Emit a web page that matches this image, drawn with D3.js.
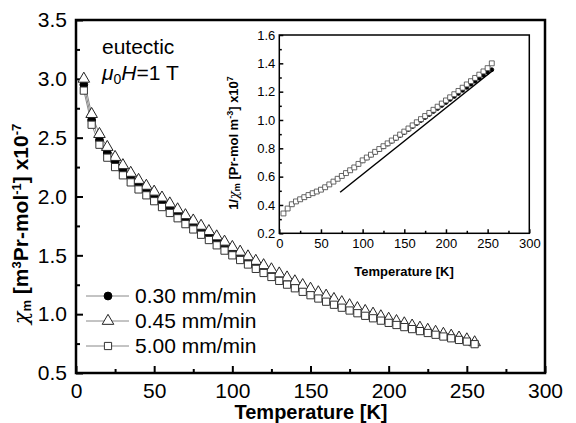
<!DOCTYPE html>
<html>
<head>
<meta charset="utf-8">
<script src="https://cdn.jsdelivr.net/npm/d3@7"></script>
<style>
body { margin: 0; background: #fff; }
text { font-family: Arial, "Liberation Sans", sans-serif; }
</style>
</head>
<body>
<div id="chart"></div>
<script>
// temperatures [K]
var temps = [5,10,15,20,25,30,35,40,45,50,55,60,65,70,75,80,85,90,95,100,
             105,110,115,120,125,130,135,140,145,150,155,160,165,170,175,180,185,190,195,200,
             205,210,215,220,225,230,235,240,245,250,255];

// chi_m x1e-7, main plot
var chi030 = [2.95,2.65,2.48,2.37,2.29,2.22,2.16,2.10,2.05,2.00,1.95,1.90,1.85,1.80,1.755,1.71,1.665,1.62,1.575,1.53,
              1.49,1.452,1.414,1.378,1.343,1.31,1.277,1.245,1.214,1.184,1.155,1.127,1.100,1.074,1.049,1.025,1.002,0.98,0.96,0.94,
              0.921,0.903,0.885,0.868,0.851,0.835,0.819,0.804,0.789,0.775,0.752];
var chi045 = [3.00,2.70,2.53,2.42,2.335,2.265,2.20,2.14,2.09,2.04,1.99,1.94,1.89,1.84,1.795,1.75,1.705,1.66,1.615,1.57,
              1.53,1.49,1.452,1.415,1.38,1.345,1.311,1.278,1.246,1.215,1.185,1.156,1.128,1.101,1.075,1.05,1.026,1.003,0.981,0.96,
              0.94,0.921,0.902,0.884,0.866,0.849,0.832,0.816,0.80,0.785,0.76];
var chi500 = [2.90,2.61,2.44,2.33,2.25,2.18,2.12,2.06,2.01,1.96,1.91,1.86,1.815,1.765,1.72,1.675,1.63,1.585,1.54,1.50,
              1.46,1.422,1.385,1.35,1.316,1.283,1.251,1.22,1.19,1.161,1.133,1.106,1.08,1.055,1.031,1.008,0.986,0.965,0.945,0.926,
              0.908,0.89,0.873,0.856,0.84,0.825,0.81,0.795,0.781,0.767,0.745];

// 1/chi_m x1e7, inset
var inv030 = [0.34,0.375,0.405,0.425,0.44,0.455,0.47,0.483,0.495,0.508,0.525,0.545,0.565,0.585,0.605,0.625,0.645,0.665,0.688,0.712,
              0.732,0.752,0.772,0.792,0.811,0.83,0.85,0.87,0.891,0.912,0.933,0.954,0.975,0.996,1.017,1.038,1.06,1.081,1.102,1.123,
              1.145,1.166,1.187,1.209,1.23,1.252,1.273,1.294,1.315,1.336,1.355];
var inv500 = [0.34,0.375,0.405,0.425,0.44,0.455,0.47,0.483,0.495,0.508,0.525,0.545,0.565,0.585,0.605,0.625,0.645,0.665,0.69,0.715,
              0.735,0.755,0.775,0.795,0.815,0.835,0.855,0.875,0.897,0.918,0.94,0.962,0.984,1.006,1.028,1.05,1.072,1.094,1.116,1.138,
              1.16,1.182,1.205,1.228,1.251,1.274,1.297,1.32,1.343,1.366,1.40];
// Curie-Weiss fit line end points
var fitT = [73, 257];
var fitInv = [0.49, 1.353];

var legendLabels = ["0.30 mm/min", "0.45 mm/min", "5.00 mm/min"];
var xTicks = [0,50,100,150,200,250,300];
var yTicks = [0.5,1.0,1.5,2.0,2.5,3.0,3.5];
var insetYTicks = [0.2,0.4,0.6,0.8,1.0,1.2,1.4,1.6];

var W = 576, H = 423;
var svg = d3.select("#chart").append("svg")
            .attr("width", W).attr("height", H);

// main scales
var x = d3.scaleLinear().domain([0, 300]).range([76, 545]);
var y = d3.scaleLinear().domain([0.5, 3.5]).range([373, 20]);

var fmt1 = d3.format(".1f");

// main axes (ticks inside)
var xAxis = d3.axisBottom(x).tickValues(xTicks).tickSize(-7).tickPadding(10).tickFormat(d3.format("d"));
var xMinor = d3.axisBottom(x).tickValues(d3.range(25, 300, 50)).tickSize(-4).tickFormat("");
var yAxis = d3.axisLeft(y).tickValues(yTicks).tickSize(-7).tickPadding(9).tickFormat(fmt1);
var yMinor = d3.axisLeft(y).tickValues(d3.range(0.75, 3.5, 0.5)).tickSize(-4).tickFormat("");

function styleAxis(g, fs) {
  g.select(".domain").remove();
  g.selectAll("line").attr("stroke", "#000").attr("stroke-width", 2);
  g.selectAll("text").attr("fill", "#000").style("font-size", fs + "px")
   .style("font-family", "Arial, 'Liberation Sans', sans-serif");
}

svg.append("g").attr("transform", "translate(0,373)").call(xAxis).call(styleAxis, 21);
svg.append("g").attr("transform", "translate(0,373)").call(xMinor).call(styleAxis, 21);
svg.append("g").attr("transform", "translate(76,0)").call(yAxis).call(styleAxis, 21);
svg.append("g").attr("transform", "translate(76,0)").call(yMinor).call(styleAxis, 21);

svg.append("rect").attr("x", 76).attr("y", 20).attr("width", 469).attr("height", 353)
   .attr("fill", "none").attr("stroke", "#000").attr("stroke-width", 2.5);

// axis titles
svg.append("text").attr("x", 311).attr("y", 419).attr("text-anchor", "middle")
   .style("font-size", "20px").style("font-weight", "bold").text("Temperature [K]");

var yl = svg.append("text").attr("transform", "translate(28,224) rotate(-90)")
   .attr("text-anchor", "middle").style("font-size", "21px").style("font-weight", "bold");
yl.append("tspan").style("font-family", "'DejaVu Serif', serif").style("font-style", "italic")
  .style("font-weight", "normal").text("\u03c7");
yl.append("tspan").attr("baseline-shift", "-25%").style("font-size", "13px").text("m");
yl.append("tspan").text(" [m");
yl.append("tspan").attr("baseline-shift", "super").style("font-size", "13px").text("3");
yl.append("tspan").text("Pr-mol");
yl.append("tspan").attr("baseline-shift", "super").style("font-size", "13px").text("-1");
yl.append("tspan").text("] x10");
yl.append("tspan").attr("baseline-shift", "super").style("font-size", "13px").text("-7");

// annotation
svg.append("text").attr("x", 102).attr("y", 54).style("font-size", "21px").text("eutectic");
var ann = svg.append("text").attr("x", 102).attr("y", 80).style("font-size", "21px");
ann.append("tspan").style("font-style", "italic").text("\u03bc");
ann.append("tspan").attr("baseline-shift", "-25%").style("font-size", "14px").text("0");
ann.append("tspan").style("font-style", "italic").text("H");
ann.append("tspan").text("=1 T");

// series
var series = [
  {vals: chi030, sym: d3.symbolCircle, size: 48, fill: "#000", stroke: "#000"},
  {vals: chi045, sym: d3.symbolTriangle, size: 58, fill: "#fff", stroke: "#222"},
  {vals: chi500, sym: d3.symbolSquare, size: 52, fill: "#fff", stroke: "#333"}
];

var line = d3.line().x(function(d){ return x(d[0]); }).y(function(d){ return y(d[1]); });

series.forEach(function(s){
  var pts = temps.map(function(t, i){ return [t, s.vals[i]]; });
  svg.append("path").datum(pts).attr("d", line)
     .attr("fill", "none").attr("stroke", "#888").attr("stroke-width", 1);
});
series.forEach(function(s){
  var pts = temps.map(function(t, i){ return [t, s.vals[i]]; });
  svg.append("g").selectAll("path").data(pts).enter().append("path")
     .attr("transform", function(d){ return "translate(" + x(d[0]) + "," + y(d[1]) + ")"; })
     .attr("d", d3.symbol().type(s.sym).size(s.size))
     .attr("fill", s.fill).attr("stroke", s.stroke).attr("stroke-width", 1);
});

// legend
legendLabels.forEach(function(lab, i){
  var ly = 296 + i * 25;
  var g = svg.append("g");
  g.append("line").attr("x1", 86).attr("x2", 129).attr("y1", ly).attr("y2", ly)
   .attr("stroke", "#888").attr("stroke-width", 1);
  g.append("path").attr("transform", "translate(108," + ly + ")")
   .attr("d", d3.symbol().type(series[i].sym).size(series[i].size))
   .attr("fill", series[i].fill).attr("stroke", series[i].stroke);
  g.append("text").attr("x", 135).attr("y", ly + 7).style("font-size", "21px").text(lab);
});

// ---- inset ----
var ix = d3.scaleLinear().domain([0, 300]).range([279.3, 529.3]);
var iy = d3.scaleLinear().domain([0.2, 1.6]).range([233.3, 35]);

var ixAxis = d3.axisBottom(ix).tickValues(xTicks).tickSize(-4).tickPadding(5).tickFormat(d3.format("d"));
var ixMinor = d3.axisBottom(ix).tickValues(d3.range(25, 300, 50)).tickSize(-2.5).tickFormat("");
var iyAxis = d3.axisLeft(iy).tickValues(insetYTicks).tickSize(-4).tickPadding(4).tickFormat(fmt1);
var iyMinor = d3.axisLeft(iy).tickValues(d3.range(0.3, 1.6, 0.2)).tickSize(-2.5).tickFormat("");

function styleInset(g) {
  g.select(".domain").remove();
  g.selectAll("line").attr("stroke", "#000").attr("stroke-width", 1.5);
  g.selectAll("text").attr("fill", "#000").style("font-size", "13px")
   .style("font-family", "Arial, 'Liberation Sans', sans-serif");
}
svg.append("g").attr("transform", "translate(0,233.3)").call(ixAxis).call(styleInset);
svg.append("g").attr("transform", "translate(0,233.3)").call(ixMinor).call(styleInset);
svg.append("g").attr("transform", "translate(279.3,0)").call(iyAxis).call(styleInset);
svg.append("g").attr("transform", "translate(279.3,0)").call(iyMinor).call(styleInset);

svg.append("rect").attr("x", 279.3).attr("y", 35).attr("width", 250).attr("height", 198.3)
   .attr("fill", "none").attr("stroke", "#000").attr("stroke-width", 1.5);

svg.append("text").attr("x", 404).attr("y", 276).attr("text-anchor", "middle")
   .style("font-size", "13px").style("font-weight", "bold").text("Temperature [K]");

var iyl = svg.append("text").attr("transform", "translate(238,143) rotate(-90)")
   .attr("text-anchor", "middle").style("font-size", "13px").style("font-weight", "bold");
iyl.append("tspan").text("1/");
iyl.append("tspan").style("font-family", "'DejaVu Serif', serif").style("font-style", "italic")
   .style("font-weight", "normal").text("\u03c7");
iyl.append("tspan").attr("baseline-shift", "-25%").style("font-size", "9px").text("m");
iyl.append("tspan").text(" [Pr-mol m");
iyl.append("tspan").attr("baseline-shift", "super").style("font-size", "9px").text("-3");
iyl.append("tspan").text("] x10");
iyl.append("tspan").attr("baseline-shift", "super").style("font-size", "9px").text("7");

var iline = d3.line().x(function(d){ return ix(d[0]); }).y(function(d){ return iy(d[1]); });
var fitPts = fitT.map(function(t, i){ return [t, fitInv[i]]; });
svg.append("path").datum(fitPts).attr("d", iline)
   .attr("fill", "none").attr("stroke", "#000").attr("stroke-width", 1.5);

var insetSeries = [
  {vals: inv030, sym: d3.symbolCircle, size: 12, fill: "#000", stroke: "#000"},
  {vals: inv500, sym: d3.symbolSquare, size: 24, fill: "#fff", stroke: "#444"}
];
insetSeries.forEach(function(s){
  var pts = temps.map(function(t, i){ return [t, s.vals[i]]; });
  svg.append("g").selectAll("path").data(pts).enter().append("path")
     .attr("transform", function(d){ return "translate(" + ix(d[0]) + "," + iy(d[1]) + ")"; })
     .attr("d", d3.symbol().type(s.sym).size(s.size))
     .attr("fill", s.fill).attr("stroke", s.stroke).attr("stroke-width", 0.8);
});
</script>
</body>
</html>
